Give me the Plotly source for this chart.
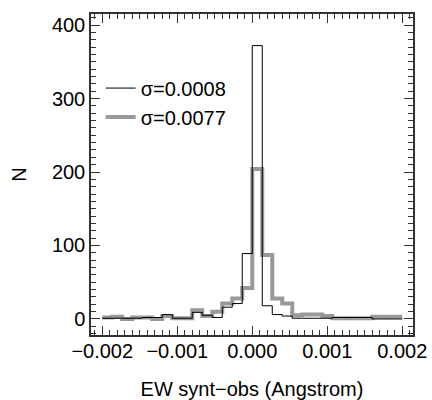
import numpy as np
import plotly.graph_objects as go

# Histogram data: 30 bins spanning -0.002 .. 0.002
bin_lo = -0.002
bin_hi = 0.002
n_bins = 30
counts_a = [1, 1, 1, 1, 2, 2, 6, 1, 1, 9, 5, 2, 16, 21, 89, 372, 18, 6, 4, 1, 1, 1, 1, 2, 2, 2, 2, 0, 0, 0]
counts_b = [2, 3, 0, 2, 2, 0, 4, 1, 1, 12, 4, 10, 21, 28, 42, 204, 87, 28, 21, 5, 6, 6, 4, 1, 1, 1, 1, 3, 3, 3]
labels = ["σ=0.0008", "σ=0.0077"]
x_title = "EW synt−obs (Angstrom)"
y_title = "N"
x_ticks = [-0.002, -0.001, 0.0, 0.001, 0.002]
x_ticktext = ["−0.002", "−0.001", "0.000", "0.001", "0.002"]
y_ticks = [0, 100, 200, 300, 400]

edges = np.linspace(bin_lo, bin_hi, n_bins + 1)

def step(counts):
    return list(edges), list(counts) + [counts[-1]]

FONT = "Liberation Sans, Arial, Helvetica, sans-serif"
FS = 20
XR = [-0.00215, 0.002143]
YR = [-21.8, 415]

fig = go.Figure()
xb, yb = step(counts_b)
fig.add_trace(go.Scatter(x=xb, y=yb, mode="lines", line=dict(shape="hv", color="rgb(153,153,153)", width=4),
                         name=labels[1], legendrank=2))
xa, ya = step(counts_a)
fig.add_trace(go.Scatter(x=xa, y=ya, mode="lines", line=dict(shape="hv", color="black", width=1),
                         name=labels[0], legendrank=1))

tick_common = dict(
    showgrid=False, zeroline=False, ticks="inside", ticklen=9, tickwidth=1, tickcolor="#333",
    automargin=False,
)
xminor = dict(dtick=0.0001, tick0=0, ticks="inside", ticklen=5, tickcolor="#333", showgrid=False)
yminor = dict(dtick=10, tick0=0, ticks="inside", ticklen=5, tickcolor="#333", showgrid=False)

fig.update_layout(
    xaxis=dict(**tick_common, range=XR, tickvals=x_ticks, ticktext=x_ticktext, minor=xminor,
               showline=True, linecolor="#333", linewidth=1.5, mirror=True, ticklabelstandoff=-3,
               tickfont=dict(family=FONT, size=FS, color="black"),
               title=dict(text=x_title, font=dict(family=FONT, size=FS, color="black"), standoff=22)),
    yaxis=dict(**tick_common, range=YR, tickvals=y_ticks, minor=yminor,
               showline=True, linecolor="#333", linewidth=1.5, mirror=True,
               tickfont=dict(family=FONT, size=FS, color="black"),
               title=dict(text=y_title, font=dict(family=FONT, size=FS, color="black"), standoff=20)),
    xaxis2=dict(**tick_common, range=XR, tickvals=x_ticks, minor=xminor, overlaying="x", side="top",
                showticklabels=False, showline=False, anchor="y"),
    yaxis2=dict(**tick_common, range=YR, tickvals=y_ticks, minor=yminor, overlaying="y", side="right",
                showticklabels=False, showline=False, anchor="x"),
)
# invisible trace to activate the mirrored tick axes
fig.add_trace(go.Scatter(x=[XR[0]], y=[YR[0]], xaxis="x2", yaxis="y2", mode="markers",
                         marker=dict(opacity=0), showlegend=False, hoverinfo="skip"))

fig.update_layout(
    width=432, height=400,
    margin=dict(l=91, r=19, t=14, b=65),
    plot_bgcolor="white", paper_bgcolor="white",
    showlegend=True,
    legend=dict(x=0.03, y=0.83, xanchor="left", yanchor="top", bgcolor="rgba(0,0,0,0)",
                font=dict(family=FONT, size=FS, color="black"), tracegroupgap=0, itemwidth=30),
)
fig.write_html("out.html")
